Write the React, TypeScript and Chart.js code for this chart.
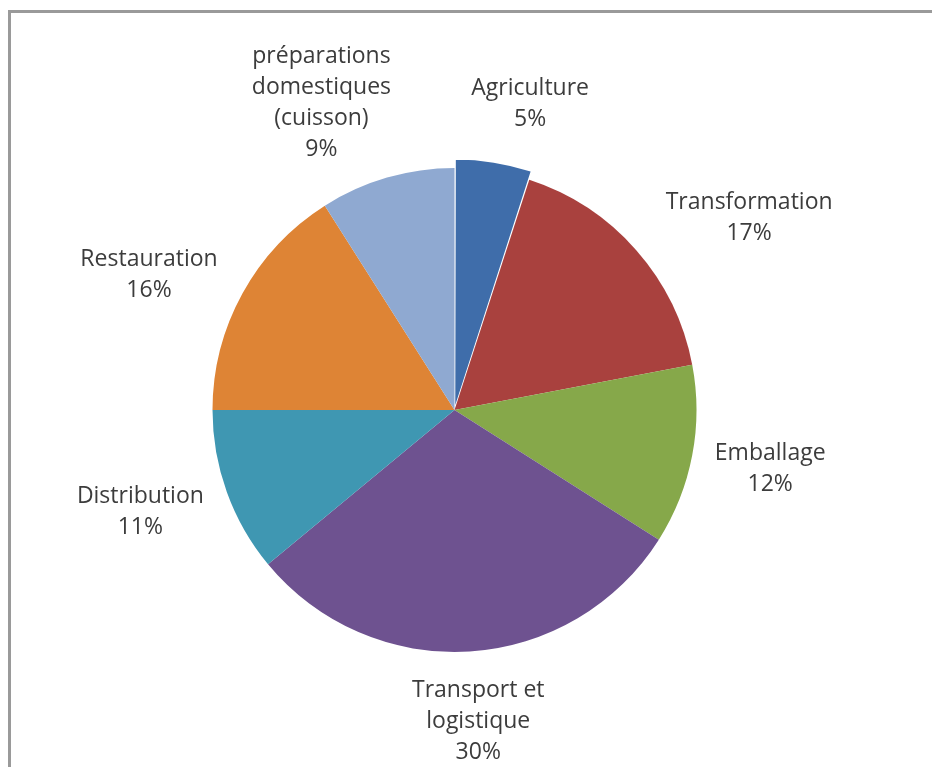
import React, { useEffect, useRef } from "react";
import { Chart, ArcElement, PieController } from "chart.js";

Chart.register(ArcElement, PieController);

// Categories (each entry = lines of the category label)
const categories: string[][] = [
  ["Agriculture"],
  ["Transformation"],
  ["Emballage"],
  ["Transport et", "logistique"],
  ["Distribution"],
  ["Restauration"],
  ["préparations", "domestiques", "(cuisson)"],
];

// Share of each category (%)
const shares: number[] = [5, 17, 12, 30, 11, 16, 9];

const sliceColors: string[] = [
  "#3F6DAA",
  "#A9413E",
  "#86A84A",
  "#6E5290",
  "#3F97B2",
  "#DE8435",
  "#8FA9D1",
];

// Exploded slice (Agriculture)
const explode: number[] = [20, 0, 0, 0, 0, 0, 0];

// Small nudges of the outside labels (px) to mimic the original placement
const labelShift: [number, number][] = [
  [22, 5],
  [34, 3],
  [2, 4],
  [3, 2],
  [-6, 2],
  [-14, 7],
  [-40, 6],
];

const LABEL_FONT = '23px "Open Sans"';
const LABEL_COLOR = "#3c3c3c";
const LINE_H = 31;
const GAP = 22;

const outsideLabels = {
  id: "outsideLabels",
  afterDatasetsDraw(chart: any) {
    const ctx = chart.ctx as CanvasRenderingContext2D;
    const meta = chart.getDatasetMeta(0);
    ctx.save();
    ctx.font = LABEL_FONT;
    ctx.fillStyle = LABEL_COLOR;
    ctx.textAlign = "center";
    ctx.textBaseline = "middle";
    meta.data.forEach((arc: any, i: number) => {
      const { x, y, startAngle, endAngle, outerRadius } = arc.getProps(
        ["x", "y", "startAngle", "endAngle", "outerRadius"],
        true
      );
      const mid = (startAngle + endAngle) / 2;
      const lines = [...categories[i], `${shares[i]}%`];
      const w = Math.max(...lines.map((l) => ctx.measureText(l).width));
      const h = lines.length * LINE_H;
      const c = Math.cos(mid);
      const s = Math.sin(mid);
      const r = outerRadius + explode[i] + GAP;
      const cx = x + c * (r + w / 2) + labelShift[i][0];
      const cy = y + s * (r + h / 2) + labelShift[i][1];
      lines.forEach((l, k) => {
        ctx.fillText(l, cx, cy - h / 2 + LINE_H * (k + 0.5));
      });
    });
    ctx.restore();
  },
};

export default function App() {
  const canvasRef = useRef<HTMLCanvasElement | null>(null);

  useEffect(() => {
    if (!canvasRef.current) return;
    const chart = new Chart(canvasRef.current, {
      type: "pie",
      data: {
        labels: categories.map((c) => c.join(" ")),
        datasets: [
          {
            data: shares,
            backgroundColor: sliceColors,
            borderWidth: 0,
            offset: explode,
            radius: 242,
          } as any,
        ],
      },
      options: {
        responsive: false,
        maintainAspectRatio: false,
        animation: false,
        events: [],
        layout: { padding: { left: 0, right: 39, top: 45, bottom: 8 } },
        plugins: {
          legend: { display: false },
          tooltip: { enabled: false },
        },
      } as any,
      plugins: [outsideLabels],
    });
    return () => chart.destroy();
  }, []);

  return (
    <div
      style={{
        position: "relative",
        width: 932,
        height: 767,
        marginBottom: -8,
        overflow: "hidden",
        background: "#ffffff",
      }}
    >
      <div
        style={{
          position: "absolute",
          left: 0,
          top: 2,
          width: 2000,
          height: 2000,
          borderLeft: "3px solid #9a9a9a",
          borderTop: "3px solid #9a9a9a",
        }}
      />
      <canvas
        ref={canvasRef}
        width={932}
        height={767}
        style={{ position: "absolute", left: 0, top: 0 }}
      />
    </div>
  );
}
